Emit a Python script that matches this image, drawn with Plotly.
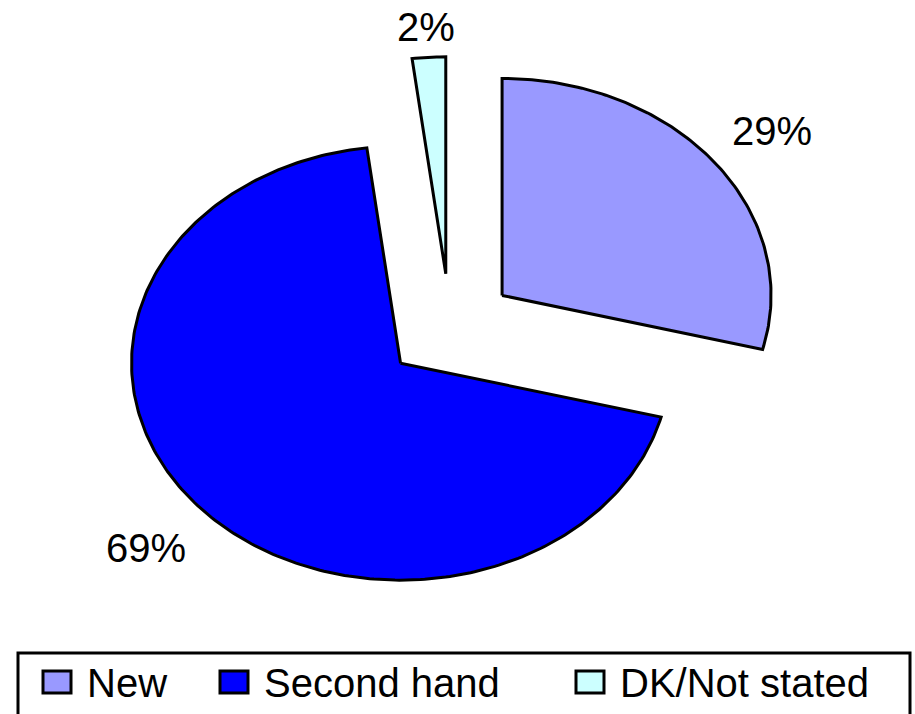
import numpy as np
import plotly.graph_objects as go

# Purchase type shares (percent)
categories = ["New", "Second hand", "DK/Not stated"]
shares = [29, 69, 2]
colors = ["#9999FF", "#0000FF", "#CCFFFF"]
pulls = [0.245, 0.245, 0.25]  # explosion of each slice, in radius units

W, H = 915, 714
CX, CY = 450, 328   # pie centre (px)
RX, RY = 269, 217   # horizontal / vertical radius (px)
FONT = dict(family="Liberation Sans, Arial, sans-serif", size=40, color="black")

fig = go.Figure()

total = float(sum(shares))
start = 0.0
for name, val, col, pull in zip(categories, shares, colors, pulls):
    a0 = start / total * 2 * np.pi
    a1 = (start + val) / total * 2 * np.pi
    mid = (a0 + a1) / 2
    ox, oy = pull * np.sin(mid), pull * np.cos(mid)
    t = np.linspace(a0, a1, max(int(val * 4), 12))
    xs = np.concatenate([[ox], ox + np.sin(t), [ox]])
    ys = np.concatenate([[oy], oy + np.cos(t), [oy]])
    fig.add_trace(go.Scatter(
        x=xs, y=ys, mode="lines", fill="toself", fillcolor=col,
        line=dict(color="black", width=3), name=name,
        showlegend=False, hoverinfo="skip",
    ))
    r = 1.15 + 0.15 * abs(np.sin(mid))
    fig.add_annotation(
        x=ox + r * np.sin(mid), y=oy + r * np.cos(mid),
        text=f"{val}%", showarrow=False, font=FONT,
        xanchor="center", yanchor="middle", yshift=-4,
    )
    start += val


def px(x):
    return x / W


def py(y):
    return 1 - y / H


# Boxed key along the bottom (box runs off the lower edge of the page)
frame = (f"M{px(18)},{py(H)} L{px(18)},{py(653)} "
         f"L{px(910)},{py(653)} L{px(910)},{py(H)}")
fig.add_shape(type="path", xref="paper", yref="paper", path=frame,
              line=dict(color="black", width=3))
key_left = [43, 220, 576]
for name, col, xl in zip(categories, colors, key_left):
    fig.add_shape(type="rect", xref="paper", yref="paper",
                  x0=px(xl), x1=px(xl + 28), y0=py(693), y1=py(671),
                  line=dict(color="black", width=3), fillcolor=col)
    fig.add_annotation(xref="paper", yref="paper", x=px(xl + 42), y=py(683),
                       text=name, showarrow=False, font=FONT,
                       xanchor="left", yanchor="middle")

fig.update_layout(
    width=W, height=H,
    margin=dict(l=0, r=0, t=0, b=0),
    paper_bgcolor="white", plot_bgcolor="white",
    showlegend=False,
    xaxis=dict(range=[-CX / RX, (W - CX) / RX], visible=False, fixedrange=True),
    yaxis=dict(range=[(CY - H) / RY, CY / RY], visible=False, fixedrange=True),
)

fig.write_html("out.html")
